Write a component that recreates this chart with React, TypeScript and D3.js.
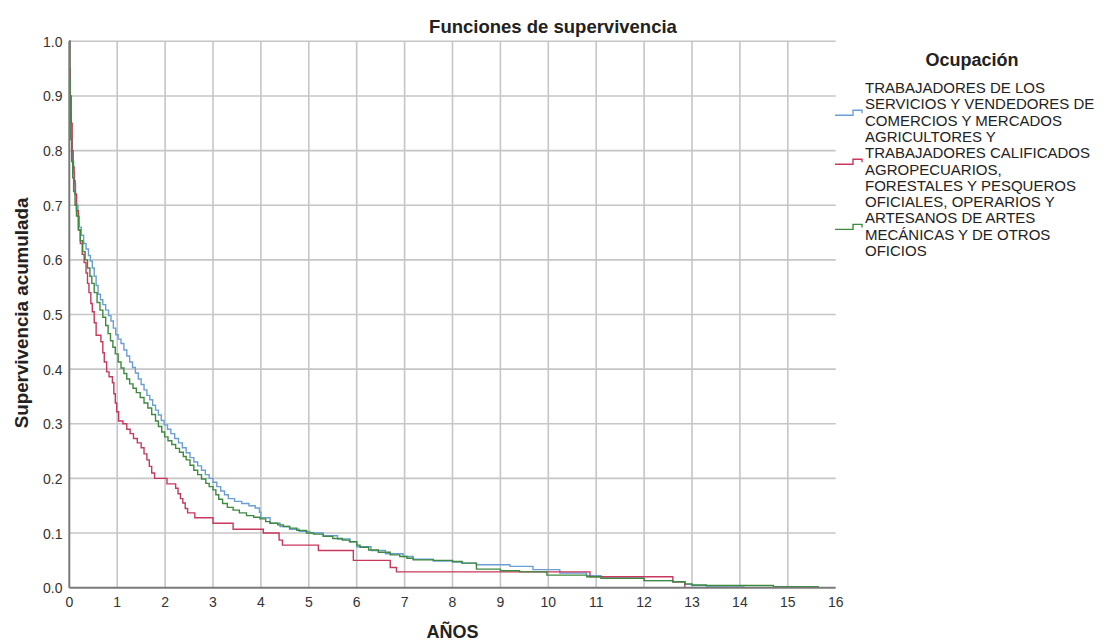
import React from "react";
import * as d3 from "d3";

const xTicks = d3.range(0, 17);
const yTicks = d3.range(0, 11).map((i) => i / 10);

const serviciosData: [number, number][] = [
  [0, 1.0], [0.01, 0.95], [0.02, 0.9], [0.03, 0.86], [0.04, 0.83], [0.05, 0.8],
  [0.07, 0.78], [0.09, 0.76], [0.11, 0.74], [0.13, 0.72], [0.15, 0.7], [0.18, 0.68],
  [0.21, 0.66], [0.25, 0.645], [0.3, 0.63], [0.35, 0.62], [0.4, 0.608], [0.44, 0.598],
  [0.48, 0.585], [0.52, 0.57], [0.56, 0.553], [0.6, 0.537], [0.65, 0.527], [0.7, 0.518],
  [0.76, 0.508], [0.82, 0.498], [0.87, 0.488], [0.92, 0.475], [0.97, 0.463], [1.02, 0.455],
  [1.08, 0.447], [1.14, 0.435], [1.2, 0.424], [1.26, 0.413], [1.32, 0.403], [1.38, 0.393],
  [1.44, 0.382], [1.5, 0.372], [1.56, 0.362], [1.62, 0.352], [1.68, 0.344], [1.74, 0.334],
  [1.8, 0.325], [1.86, 0.316], [1.92, 0.306], [1.98, 0.298], [2.05, 0.29], [2.12, 0.282],
  [2.2, 0.273], [2.28, 0.265], [2.36, 0.256], [2.44, 0.247], [2.52, 0.238], [2.6, 0.23],
  [2.68, 0.223], [2.76, 0.215], [2.84, 0.207], [2.92, 0.2], [3.0, 0.193], [3.08, 0.185],
  [3.16, 0.177], [3.24, 0.17], [3.32, 0.163], [3.45, 0.158], [3.6, 0.154], [3.75, 0.15],
  [3.88, 0.146], [3.97, 0.138], [4.0, 0.128], [4.19, 0.118], [4.4, 0.112], [4.6, 0.107],
  [4.8, 0.103], [5.02, 0.1], [5.3, 0.095], [5.6, 0.089], [5.86, 0.084], [6.0, 0.075],
  [6.3, 0.068], [6.6, 0.062], [6.97, 0.057], [7.18, 0.052], [7.6, 0.049], [8.0, 0.047],
  [8.2, 0.045], [8.5, 0.042], [9.2, 0.039], [9.68, 0.033], [10.24, 0.027], [10.8, 0.022],
  [11.1, 0.018], [12.0, 0.013], [12.6, 0.011], [12.85, 0.006], [13.0, 0.004], [13.3, 0.003],
  [14.1, 0.003],
];

const agricultoresData: [number, number][] = [
  [0, 1.0], [0.01, 0.95], [0.02, 0.9], [0.04, 0.85], [0.06, 0.8], [0.08, 0.77],
  [0.1, 0.745], [0.12, 0.72], [0.15, 0.69], [0.19, 0.655], [0.23, 0.63], [0.27, 0.61],
  [0.31, 0.595], [0.35, 0.576], [0.38, 0.557], [0.41, 0.54], [0.45, 0.52], [0.48, 0.505],
  [0.52, 0.485], [0.56, 0.462], [0.66, 0.45], [0.7, 0.43], [0.73, 0.413], [0.78, 0.395],
  [0.83, 0.386], [0.9, 0.375], [0.93, 0.355], [0.96, 0.338], [0.99, 0.322], [1.03, 0.305],
  [1.12, 0.3], [1.2, 0.29], [1.27, 0.282], [1.34, 0.273], [1.42, 0.265], [1.5, 0.256],
  [1.56, 0.245], [1.62, 0.234], [1.67, 0.222], [1.72, 0.21], [1.78, 0.2], [2.04, 0.19],
  [2.22, 0.182], [2.27, 0.172], [2.32, 0.163], [2.37, 0.155], [2.42, 0.145], [2.47, 0.137],
  [2.62, 0.128], [3.0, 0.118], [3.42, 0.107], [4.05, 0.1], [4.38, 0.087], [4.45, 0.078],
  [5.2, 0.068], [5.93, 0.05], [6.7, 0.037], [6.83, 0.029], [10.87, 0.02], [12.6, 0.011],
  [12.85, 0.0],
];

const oficialesData: [number, number][] = [
  [0, 1.0], [0.01, 0.93], [0.02, 0.87], [0.03, 0.82], [0.05, 0.78], [0.07, 0.75],
  [0.09, 0.725], [0.12, 0.7], [0.15, 0.68], [0.19, 0.655], [0.23, 0.635], [0.28, 0.615],
  [0.33, 0.6], [0.38, 0.585], [0.43, 0.57], [0.47, 0.557], [0.52, 0.54], [0.58, 0.522],
  [0.64, 0.508], [0.7, 0.495], [0.76, 0.48], [0.81, 0.465], [0.86, 0.452], [0.91, 0.44],
  [0.96, 0.428], [1.02, 0.413], [1.08, 0.402], [1.14, 0.392], [1.2, 0.382], [1.26, 0.373],
  [1.33, 0.365], [1.4, 0.357], [1.48, 0.348], [1.56, 0.338], [1.64, 0.329], [1.72, 0.317],
  [1.8, 0.305], [1.86, 0.295], [1.93, 0.285], [1.99, 0.276], [2.06, 0.269], [2.14, 0.262],
  [2.22, 0.255], [2.3, 0.248], [2.38, 0.24], [2.44, 0.234], [2.52, 0.224], [2.6, 0.215],
  [2.68, 0.207], [2.76, 0.199], [2.85, 0.191], [2.92, 0.185], [3.0, 0.179], [3.06, 0.17],
  [3.12, 0.162], [3.2, 0.154], [3.3, 0.147], [3.42, 0.142], [3.55, 0.137], [3.7, 0.132],
  [3.85, 0.129], [3.98, 0.126], [4.1, 0.121], [4.19, 0.118], [4.35, 0.115], [4.47, 0.112],
  [4.6, 0.109], [4.75, 0.105], [4.95, 0.1], [5.1, 0.098], [5.3, 0.094], [5.5, 0.09],
  [5.7, 0.087], [5.85, 0.084], [6.0, 0.078], [6.07, 0.074], [6.25, 0.069], [6.45, 0.065],
  [6.7, 0.06], [6.9, 0.057], [7.05, 0.054], [7.18, 0.051], [7.6, 0.05], [8.0, 0.048],
  [8.2, 0.045], [8.5, 0.034], [9.0, 0.031], [9.4, 0.029], [9.97, 0.023], [10.8, 0.02],
  [11.1, 0.017], [12.0, 0.013], [12.6, 0.011], [12.85, 0.007], [13.0, 0.005], [13.3, 0.004],
  [14.7, 0.002], [15.65, 0.002],
];

const seriesNames = [
  ["TRABAJADORES DE LOS", "SERVICIOS Y VENDEDORES DE", "COMERCIOS Y MERCADOS"],
  ["AGRICULTORES Y", "TRABAJADORES CALIFICADOS", "AGROPECUARIOS,", "FORESTALES Y PESQUEROS"],
  ["OFICIALES, OPERARIOS Y", "ARTESANOS DE ARTES", "MECÁNICAS Y DE OTROS", "OFICIOS"],
];
const seriesColors = ["#6a9fd6", "#c8385c", "#3e8a3e"];
const seriesData = [serviciosData, agricultoresData, oficialesData];

const FONT = "'Liberation Sans', Arial, sans-serif";

export default function App() {
  const W = 1105, H = 644;
  const x = d3.scaleLinear().domain([0, 16]).range([69.3, 835.7]);
  const y = d3.scaleLinear().domain([0, 1]).range([587.7, 41.3]);
  const line = d3
    .line<[number, number]>()
    .x((d) => x(d[0]))
    .y((d) => y(d[1]))
    .curve(d3.curveStepAfter);

  const lineH = 16.3;
  let row = 0;
  const legendItems = seriesNames.map((lines, i) => {
    const start = row;
    row += lines.length;
    return { lines, start, color: seriesColors[i] };
  });
  const baseY0 = 93;

  return (
    <svg width={W} height={H} style={{ position: "absolute", left: 0, top: 0, background: "#fff" }} fontFamily={FONT}>
      <rect x={0} y={0} width={W} height={H} fill="#fff" />
      {xTicks.filter((t) => t > 0 && t < 16).map((t) => (
        <line key={"gx" + t} x1={x(t)} x2={x(t)} y1={y(1)} y2={y(0)} stroke="#c6c6c6" strokeWidth={1.6} />
      ))}
      {yTicks.filter((t) => t > 0).map((t) => (
        <line key={"gy" + t} x1={x(0)} x2={x(16)} y1={y(t)} y2={y(t)} stroke="#c6c6c6" strokeWidth={1.6} />
      ))}
      {seriesData.map((d, i) => (
        <path key={"s" + i} d={line(d) || ""} fill="none" stroke={seriesColors[i]} strokeWidth={1.4} />
      ))}
      <line x1={x(0)} x2={x(0)} y1={y(1)} y2={y(0)} stroke="#7a7a7a" strokeWidth={2} />
      <line x1={x(0)} x2={x(16)} y1={y(0)} y2={y(0)} stroke="#7a7a7a" strokeWidth={2} />
      {yTicks.map((t) => (
        <text key={"yl" + t} x={62.5} y={y(t) + 5.5} textAnchor="end" fontSize={14} fill="#333">
          {t.toFixed(1)}
        </text>
      ))}
      {xTicks.map((t) => (
        <text key={"xl" + t} x={x(t)} y={607} textAnchor="middle" fontSize={14} fill="#333">
          {t}
        </text>
      ))}
      <text x={553} y={33} textAnchor="middle" fontSize={18.5} fontWeight="bold" fill="#222">
        Funciones de supervivencia
      </text>
      <text x={452.5} y={638} textAnchor="middle" fontSize={18} fontWeight="bold" fill="#222">
        AÑOS
      </text>
      <text transform={`translate(27.5,${313}) rotate(-90)`} textAnchor="middle" fontSize={18.8} fontWeight="bold" fill="#222">
        Supervivencia acumulada
      </text>
      <text x={972} y={66} textAnchor="middle" fontSize={18} fontWeight="bold" fill="#222">
        Ocupación
      </text>
      {legendItems.map((it, i) => {
        const b2 = baseY0 + (it.start + 1) * lineH;
        return (
          <g key={"lg" + i}>
            <path
              d={`M835,${b2 + 6} H853 V${b2 + 1} H862 V${b2 + 4}`}
              fill="none"
              stroke={it.color}
              strokeWidth={1.4}
            />
            {it.lines.map((ln, j) => (
              <text key={j} x={865} y={baseY0 + (it.start + j) * lineH} fontSize={15} fill="#222">
                {ln}
              </text>
            ))}
          </g>
        );
      })}
    </svg>
  );
}
